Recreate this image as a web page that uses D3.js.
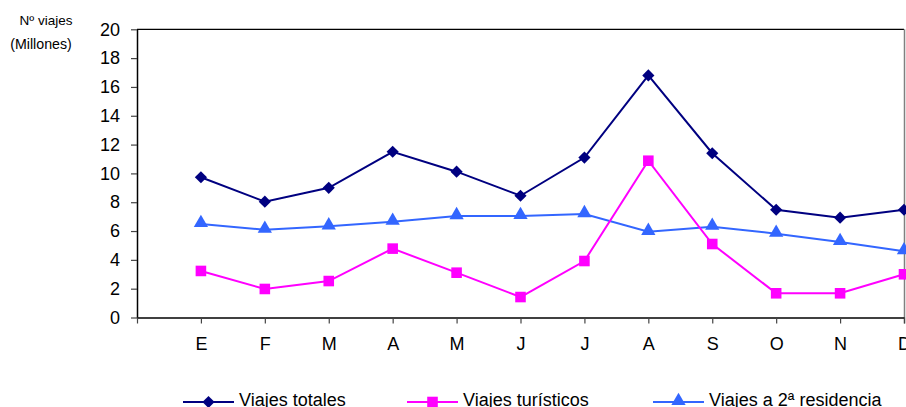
<!DOCTYPE html>
<html><head><meta charset="utf-8">
<script src="https://cdn.jsdelivr.net/npm/d3@7"></script>
<style>
body{margin:0;background:#fff;}
svg{display:block;font-family:"Liberation Sans",Arial,sans-serif;}
</style></head>
<body><svg id="c" width="906" height="407"></svg>
<script>
const months = ["E","F","M","A","M","J","J","A","S","O","N","D"];
const totales = [9.73, 8.04, 9.0, 11.5, 10.12, 8.45, 11.1, 16.8, 11.4, 7.48, 6.93, 7.48];
const turisticos = [3.23, 1.98, 2.53, 4.78, 3.11, 1.42, 3.92, 10.88, 5.1, 1.68, 1.68, 3.0];
const residencia = [6.49, 6.09, 6.33, 6.65, 7.04, 7.05, 7.18, 5.95, 6.3, 5.82, 5.24, 4.6];
const yTicks = [0,2,4,6,8,10,12,14,16,18,20];
const seriesNames = ["Viajes totales","Viajes turísticos","Viajes a 2ª residencia"];

const svg = d3.select("#c");
const L = 137, R = 904, T = 29.3, B = 317.5;
const x = d3.scaleLinear().domain([0, 12]).range([L, R]);
const y = d3.scaleLinear().domain([0, 20]).range([B, T]);

// plot border (top/right)
svg.append("line").attr("x1", L).attr("x2", R).attr("y1", T).attr("y2", T).attr("stroke", "#000").attr("stroke-width", 1.3);
svg.append("line").attr("x1", R + 0.5).attr("x2", R + 0.5).attr("y1", T).attr("y2", B + 6).attr("stroke", "#808080").attr("stroke-width", 1.5);

// y axis
const ya = svg.append("g").attr("transform", `translate(${L},0)`)
  .call(d3.axisLeft(y).tickValues(yTicks).tickSize(6).tickSizeOuter(0).tickPadding(11).tickFormat(d3.format("d")));
ya.select(".domain").attr("stroke", "#000").attr("stroke-width", 1.5);
ya.selectAll(".tick line").attr("stroke", "#444").attr("stroke-width", 1.2);
ya.selectAll("text").attr("font-size", 18).attr("fill", "#000").attr("font-family", "Liberation Sans, Arial, sans-serif");

// x axis
const xa = svg.append("g").attr("transform", `translate(0,${B})`)
  .call(d3.axisBottom(x).tickValues(d3.range(0, 13)).tickSize(6).tickSizeOuter(0).tickPadding(14)
    .tickFormat(i => i === 0 ? "" : months[i - 1]));
xa.select(".domain").attr("stroke", "#000").attr("stroke-width", 1.5);
xa.selectAll(".tick line").attr("stroke", "#444").attr("stroke-width", 1.2);
xa.selectAll("text").attr("font-size", 18).attr("fill", "#000").attr("font-family", "Liberation Sans, Arial, sans-serif");

// y title
svg.append("text").attr("x", 46).attr("y", 25).attr("text-anchor", "middle").attr("font-size", 13.5).text("Nº viajes");
svg.append("text").attr("x", 41).attr("y", 49).attr("text-anchor", "middle").attr("font-size", 14.2).text("(Millones)");

const sym = {
  diamond: d3.symbol().type(d3.symbolSquare).size(74),
  square: d3.symbol().type(d3.symbolSquare).size(112),
  triangle: d3.symbol().type(d3.symbolTriangle).size(88)
};
const series = [
  {name: seriesNames[0], data: totales, color: "#000080", shape: "diamond"},
  {name: seriesNames[1], data: turisticos, color: "#FF00FF", shape: "square"},
  {name: seriesNames[2], data: residencia, color: "#3366FF", shape: "triangle"}
];
const line = d3.line().x((d, i) => x(i + 1)).y(d => y(d));

function marker(g, s, cx, cy) {
  const p = g.append("path").attr("d", sym[s.shape]()).attr("fill", s.color);
  if (s.shape === "diamond") p.attr("transform", `translate(${cx},${cy}) rotate(45)`);
  else if (s.shape === "triangle") p.attr("transform", `translate(${cx},${cy - 1})`);
  else p.attr("transform", `translate(${cx},${cy})`);
}

const plot = svg.append("g");
[series[2], series[1], series[0]].forEach(s => {
  plot.append("path").datum(s.data).attr("d", line).attr("fill", "none").attr("stroke", s.color).attr("stroke-width", 2);
  s.data.forEach((d, i) => marker(plot, s, x(i + 1), y(d)));
});

// legend
const legX = [183, 407, 653];
const legY = 402;
series.forEach((s, k) => {
  const g = svg.append("g");
  g.append("line").attr("x1", legX[k]).attr("x2", legX[k] + 51).attr("y1", legY).attr("y2", legY).attr("stroke", s.color).attr("stroke-width", 2);
  marker(g, s, legX[k] + 25.5, legY);
  g.append("text").attr("x", legX[k] + 56).attr("y", 406).attr("font-size", 18).text(s.name);
});
</script></body></html>
